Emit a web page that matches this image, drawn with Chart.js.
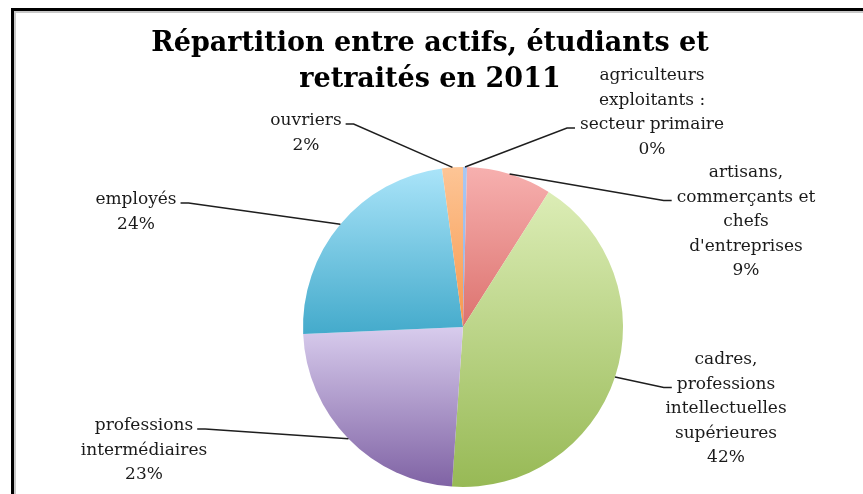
<!DOCTYPE html>
<html>
<head>
<meta charset="utf-8">
<script src="https://cdn.jsdelivr.net/npm/chart.js@4.4.1/dist/chart.umd.min.js"></script>
<style>
  html, body { margin: 0; padding: 0; background: #fff; overflow: hidden; }
  #wrap { position: relative; width: 863px; height: 494px; }
  #frame {
    position: absolute; left: 11px; top: 8px; width: 900px; height: 600px;
    border-left: 3px solid #000; border-top: 3px solid #000;
    box-shadow: inset 2px 2px 0 #c8c8c8;
  }
  #pie { position: absolute; left: 0; top: 0; }
</style>
</head>
<body>
<div id="wrap">
  <div id="frame"></div>
  <canvas id="pie" width="863" height="494"></canvas>
</div>
<script>
// ── Data ─────────────────────────────────────────────────────
const TITLE_LINES = ['Répartition entre actifs, étudiants et', 'retraités en 2011'];

const categories = [
  'agriculteurs exploitants : secteur primaire',
  "artisans, commerçants et chefs d'entreprises",
  'cadres, professions intellectuelles supérieures',
  'professions intermédiaires',
  'employés',
  'ouvriers',
];
// shares (percent of total)
const shares = [0.4, 8.6, 42.1, 23.2, 23.6, 2.1];

// label text, split the way the reference wraps it
const labelLines = [
  ['agriculteurs', 'exploitants :', 'secteur primaire'],
  ['artisans,', 'commerçants et', 'chefs', "d'entreprises"],
  ['cadres,', 'professions', 'intellectuelles', 'supérieures'],
  ['professions', 'intermédiaires'],
  ['employés'],
  ['ouvriers'],
];

// ── Styles / layout ──────────────────────────────────────────
const topColors  = ['#a9c8f4', '#f7b0af', '#dcedb6', '#d8cced', '#aae4f9', '#fdc596'];
const baseColors = ['#8fb2e6', '#dc726e', '#97b955', '#7f62a4', '#43aacb', '#f7984c'];

// text centre x, first line centre y, which line the leader attaches to, side
const labelPos = [
  { x: 652, y: 76,  attach: 2, side: 'right' },
  { x: 746, y: 173, attach: 1, side: 'right' },
  { x: 726, y: 360, attach: 1, side: 'right' },
  { x: 144, y: 426, attach: 0, side: 'left'  },
  { x: 136, y: 200, attach: 0, side: 'left'  },
  { x: 306, y: 121, attach: 0, side: 'left'  },
];

const LABEL_FONT = '17px "DejaVu Serif", serif';
const TITLE_FONT = 'bold 27px "DejaVu Serif", serif';
const LINE_H = 24.5;

const total = shares.reduce((a, b) => a + b, 0);

// vertical gradient spanning each slice's own height (Excel style)
function sliceGradient(context) {
  const i = context.dataIndex;
  const chart = context.chart;
  const area = chart.chartArea;
  if (!area) return baseColors[i];
  const cx = (area.left + area.right) / 2;
  const cy = (area.top + area.bottom) / 2;
  const r = Math.min(area.width, area.height) / 2;
  let start = 0;
  for (let k = 0; k < i; k++) start += shares[k];
  const a0 = -Math.PI / 2 + start / total * 2 * Math.PI;
  const a1 = a0 + shares[i] / total * 2 * Math.PI;
  let ymin = cy, ymax = cy;
  for (let t = 0; t <= 60; t++) {
    const y = cy + r * Math.sin(a0 + (a1 - a0) * t / 60);
    ymin = Math.min(ymin, y);
    ymax = Math.max(ymax, y);
  }
  const g = chart.ctx.createLinearGradient(0, ymin, 0, ymax + 1);
  g.addColorStop(0, topColors[i]);
  g.addColorStop(1, baseColors[i]);
  return g;
}

// ── Plugins: title + outside labels with leader lines ────────
const titlePlugin = {
  id: 'excelTitle',
  afterDraw(chart) {
    const ctx = chart.ctx;
    ctx.save();
    ctx.font = TITLE_FONT;
    ctx.fillStyle = '#000';
    ctx.textAlign = 'center';
    ctx.textBaseline = 'middle';
    ctx.fillText(TITLE_LINES[0], 430, 44);
    ctx.fillText(TITLE_LINES[1], 430, 80);
    ctx.restore();
  },
};

const labelPlugin = {
  id: 'outsideLabels',
  afterDatasetsDraw(chart) {
    const ctx = chart.ctx;
    const arcs = chart.getDatasetMeta(0).data;
    ctx.save();
    ctx.font = LABEL_FONT;
    ctx.textAlign = 'center';
    ctx.textBaseline = 'middle';
    arcs.forEach((arc, i) => {
      const p = labelPos[i];
      const lines = labelLines[i].concat(Math.round(shares[i] / total * 100) + '%');
      const mid = (arc.startAngle + arc.endAngle) / 2;
      const ax = arc.x + Math.cos(mid) * arc.outerRadius;
      const ay = arc.y + Math.sin(mid) * arc.outerRadius;
      const ly = p.y + p.attach * LINE_H + 3;
      const w = ctx.measureText(lines[p.attach]).width;
      const tx = p.side === 'right' ? p.x - w / 2 - 5 : p.x + w / 2 + 4;
      const ex = p.side === 'right' ? tx - 8 : tx + 8;

      ctx.strokeStyle = '#1e1e1e';
      ctx.lineWidth = 1.5;
      ctx.beginPath();
      ctx.moveTo(ax, ay);
      ctx.lineTo(ex, ly);
      ctx.lineTo(tx, ly);
      ctx.stroke();

      ctx.fillStyle = '#1a1a1a';
      lines.forEach((s, k) => ctx.fillText(s, p.x, p.y + k * LINE_H));
    });
    ctx.restore();
  },
};

// ── Chart ────────────────────────────────────────────────────
new Chart(document.getElementById('pie'), {
  type: 'pie',
  data: {
    labels: categories,
    datasets: [{
      data: shares,
      backgroundColor: sliceGradient,
      borderWidth: 0,
    }],
  },
  options: {
    responsive: false,
    animation: false,
    layout: { padding: { left: 303, right: 240, top: 167, bottom: 7 } },
    plugins: {
      legend: { display: false },
      tooltip: { enabled: false },
    },
  },
  plugins: [labelPlugin, titlePlugin],
});
</script>
</body>
</html>
